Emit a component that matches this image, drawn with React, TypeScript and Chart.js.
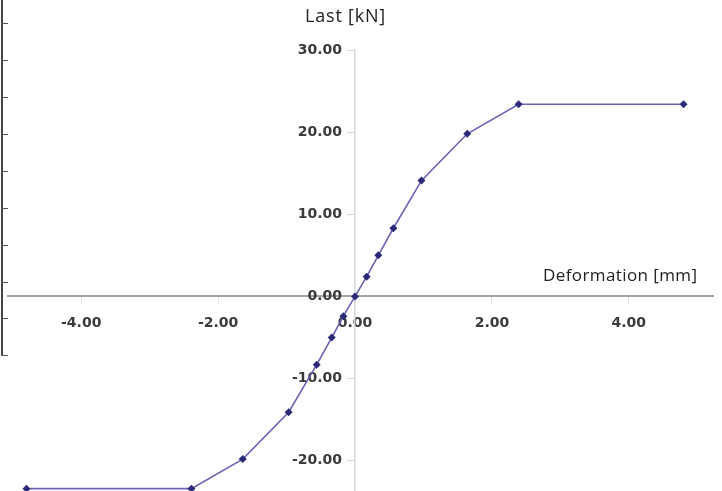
import React, { useEffect, useRef } from "react";
import { Chart, registerables } from "chart.js";

Chart.register(...registerables);

const deformation = [-4.8, -2.39, -1.64, -0.97, -0.56, -0.34, -0.17, 0, 0.17, 0.34, 0.56, 0.97, 1.64, 2.39, 4.8];
const load = [-23.4, -23.4, -19.8, -14.1, -8.3, -5.0, -2.4, 0, 2.4, 5.0, 8.3, 14.1, 19.8, 23.4, 23.4];
const xTickValues = [-4, -2, 0, 2, 4];
const yTickValues = [-20, -10, 0, 10, 20, 30];
const xTitle = "Deformation [mm]";
const yTitle = "Last [kN]";
const tableRowLines = [23, 60, 97, 134, 171, 208, 245, 282, 318, 355];

export default function App() {
  const ref = useRef<HTMLCanvasElement | null>(null);
  useEffect(() => {
    const canvas = ref.current;
    if (!canvas) return;
    const tickFont = { family: "'DejaVu Sans', sans-serif", size: 14, weight: "bold" as const };
    const fmt = (v: any) => Number(v).toFixed(2);
    const chart = new Chart(canvas, {
      type: "scatter",
      data: {
        datasets: [
          {
            data: deformation.map((x, i) => ({ x, y: load[i] })),
            showLine: true,
            borderColor: "#6d62b4",
            borderWidth: 1.6,
            backgroundColor: "#2b2a78",
            pointBackgroundColor: "#2b2a78",
            pointBorderColor: "#2b2a78",
            pointStyle: "rectRot",
            pointRadius: 4,
            pointBorderWidth: 0,
            clip: false,
          },
        ],
      },
      options: {
        animation: false,
        responsive: false,
        devicePixelRatio: 1,
        layout: { padding: { left: 8, right: 9, top: 50, bottom: 0 } },
        plugins: { legend: { display: false }, tooltip: { enabled: false } },
        scales: {
          x: {
            type: "linear",
            min: -5.07,
            max: 5.23,
            position: { y: 0 } as any,
            afterBuildTicks: (scale: any) => {
              scale.ticks = xTickValues.map((v) => ({ value: v }));
            },
            ticks: {
              font: tickFont,
              color: "#3a3a3a",
              padding: 12,
              maxRotation: 0,
              callback: fmt,
            },
            grid: {
              drawOnChartArea: false,
              drawTicks: true,
              tickLength: 7,
              tickColor: "#e4e4e4",
            },
            border: { display: true, color: "#aaa2a2", width: 2 },
          },
          y: {
            type: "linear",
            min: -24,
            max: 30,
            position: { x: 0 } as any,
            afterBuildTicks: (scale: any) => {
              scale.ticks = yTickValues.map((v) => ({ value: v }));
            },
            ticks: { display: false },
            grid: {
              drawOnChartArea: false,
              drawTicks: true,
              tickLength: 7,
              tickColor: "#d6d6d6",
            },
            border: { display: true, color: "#d8d8d8", width: 1.5 },
          },
          yLabels: {
            type: "linear",
            axis: "y",
            min: -24,
            max: 30,
            position: { x: -0.19 } as any,
            afterBuildTicks: (scale: any) => {
              scale.ticks = yTickValues.map((v) => ({ value: v }));
            },
            ticks: {
              font: tickFont,
              color: "#3a3a3a",
              callback: fmt,
            },
            grid: { display: false, drawTicks: false },
            border: { display: false },
          } as any,
        },
      },
    });
    return () => chart.destroy();
  }, []);

  return (
    <div style={{ position: "fixed", left: 0, top: 0, width: 722, height: 491, background: "#fff", overflow: "hidden" }}>
      <canvas ref={ref} width={722} height={505} style={{ position: "absolute", left: 0, top: 0, width: 722, height: 505 }} />
      <div
        style={{
          position: "absolute",
          left: 305,
          top: 3,
          fontFamily: "'Open Sans', sans-serif",
          fontSize: 18,
          letterSpacing: 0.8,
          color: "#222",
          whiteSpace: "nowrap",
        }}
      >
        {yTitle}
      </div>
      <div
        style={{
          position: "absolute",
          left: 543,
          top: 263,
          fontFamily: "'Open Sans', sans-serif",
          fontSize: 17,
          letterSpacing: 0.4,
          color: "#222",
          whiteSpace: "nowrap",
        }}
      >
        {xTitle}
      </div>
      <div style={{ position: "absolute", left: 1, top: 0, width: 2, height: 356, background: "#444" }} />
      {tableRowLines.map((y) => (
        <div key={y} style={{ position: "absolute", left: 1, top: y, width: 7, height: 1, background: "#555" }} />
      ))}
    </div>
  );
}
